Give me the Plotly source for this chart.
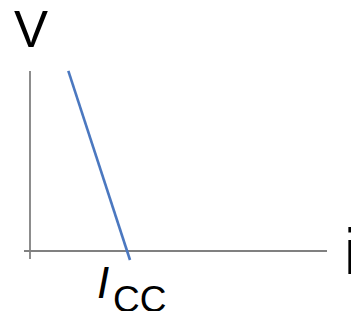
import plotly.graph_objects as go

W, H = 351, 311

# data (units: current in multiples of Icc, voltage arbitrary)
line_i = [0.395, 1.031]
line_v = [1.856, -0.093]
haxis_i = [-0.062, 3.062]
haxis_v = [0.0, 0.0]
vaxis_i = [0.0, 0.0]
vaxis_v = [-0.0825, 1.856]

x_range = [-30 / 97, 321 / 97]
y_range = [(251 - 311) / 97, 251 / 97]

AXIS = "#808080"
BLUE = "#4b78c0"
FONT = "Liberation Sans, Arial, sans-serif"

fig = go.Figure()
fig.add_trace(go.Scatter(x=haxis_i, y=haxis_v, mode="lines",
                         line=dict(color=AXIS, width=1.8), hoverinfo="skip"))
fig.add_trace(go.Scatter(x=vaxis_i, y=vaxis_v, mode="lines",
                         line=dict(color=AXIS, width=1.8), hoverinfo="skip"))
fig.add_trace(go.Scatter(x=line_i, y=line_v, mode="lines",
                         line=dict(color=BLUE, width=2.6), hoverinfo="skip"))


def px(xp):
    return xp / W


def py(yp):
    return 1 - yp / H


annos = [
    dict(text="V", x=px(12), y=py(-1), size=51),
    dict(text="i", x=px(341.5), y=py(213), size=65),
    dict(text="<i>I</i>", x=px(95), y=py(256), size=44),
    dict(text="CC", x=px(111), y=py(277), size=37),
]
for a in annos:
    fig.add_annotation(text=a["text"], x=a["x"], y=a["y"], xref="paper", yref="paper",
                       xanchor="left", yanchor="top", showarrow=False,
                       font=dict(family=FONT, size=a["size"], color="#000000"))

fig.update_layout(
    width=W, height=H,
    margin=dict(l=0, r=0, t=0, b=0),
    paper_bgcolor="white", plot_bgcolor="white",
    showlegend=False,
    xaxis=dict(range=x_range, visible=False, fixedrange=True),
    yaxis=dict(range=y_range, visible=False, fixedrange=True),
)

fig.write_html("out.html", config={"displayModeBar": False},
               post_script="document.body.style.margin='0';document.body.style.overflow='hidden';")
